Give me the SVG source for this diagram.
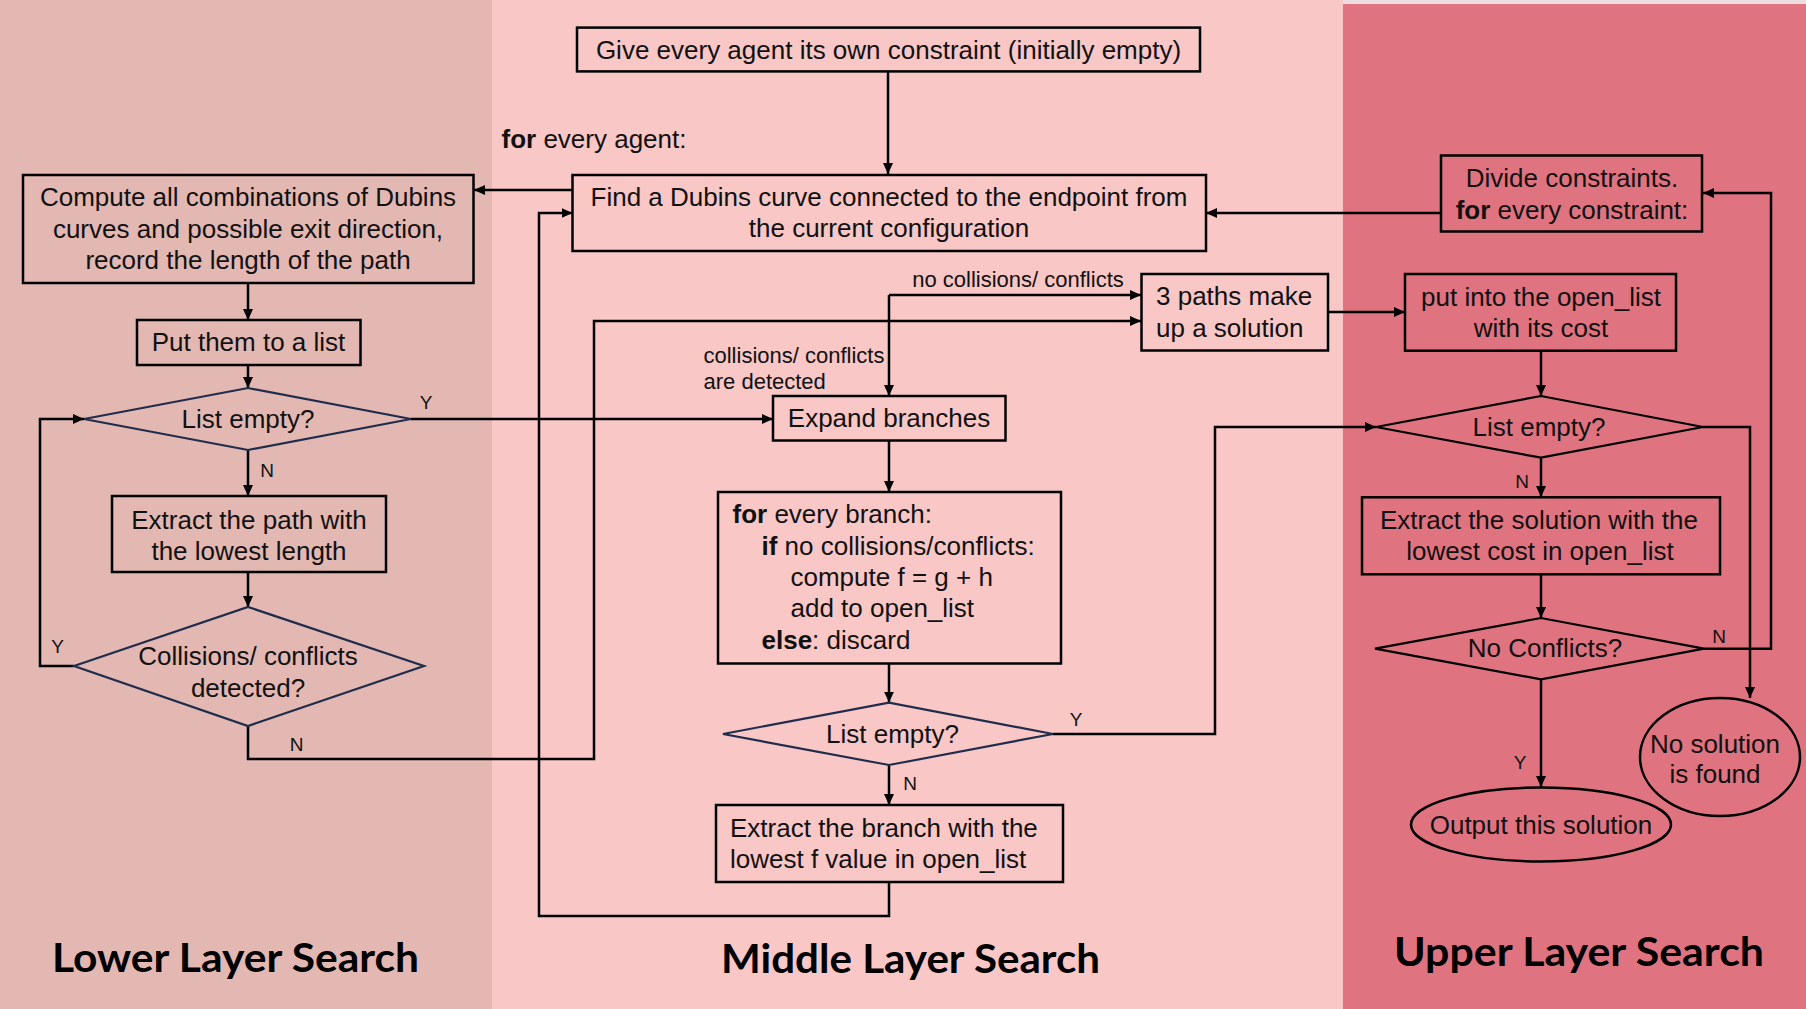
<svg xmlns="http://www.w3.org/2000/svg" width="1806" height="1009" viewBox="0 0 1806 1009">
<defs>
<marker id="ah" markerUnits="userSpaceOnUse" markerWidth="12" markerHeight="10" refX="11" refY="5" orient="auto">
<path d="M0,0 L11,5 L0,10 z" fill="#000"/>
</marker>
<style>
.t{font-family:"Liberation Sans",Arial,sans-serif;font-size:26px;fill:#111;}
.m{text-anchor:middle;}
.s{font-family:"Liberation Sans",Arial,sans-serif;font-size:22px;fill:#111;}
.l{font-family:"Liberation Sans",Arial,sans-serif;font-size:19px;fill:#111;text-anchor:middle;}
.b{font-weight:bold;}
.box{fill:none;stroke:#000;stroke-width:2.5;}
.dia{fill:none;stroke:#1f2d4d;stroke-width:2.2;}
.diab{fill:none;stroke:#000;stroke-width:2.2;}
.c{fill:none;stroke:#000;stroke-width:2.5;marker-end:url(#ah);}
.cn{fill:none;stroke:#000;stroke-width:2.5;}
.title{font-family:"Lato","Liberation Sans",sans-serif;font-size:40px;font-weight:bold;fill:#000;}
</style>
</defs>
<g id="background">
<rect x="0" y="0" width="492" height="1009" fill="#e3b7b2"/>
<rect x="492" y="0" width="851" height="1009" fill="#f8c7c6"/>
<rect x="1343" y="0" width="463" height="1009" fill="#df737f"/>
<rect x="1343" y="0" width="463" height="4" fill="#ecdede"/>
</g>
<g id="titles">
<text class="title" x="52" y="972" textLength="367" lengthAdjust="spacingAndGlyphs">Lower Layer Search</text>
<text class="title" x="721" y="973" textLength="379" lengthAdjust="spacingAndGlyphs">Middle Layer Search</text>
<text class="title" x="1394" y="966" textLength="370" lengthAdjust="spacingAndGlyphs">Upper Layer Search</text>
</g>
<g id="connectors">
<path class="c" d="M888,71.4 V174"/>
<path class="c" d="M572.5,190 H474"/>
<path class="c" d="M248,283 V320"/>
<path class="c" d="M248,365 V388"/>
<path class="c" d="M411,419 H773"/>
<path class="c" d="M248,450 V496"/>
<path class="c" d="M248,572 V607"/>
<path class="c" d="M74,666 H40 V419 H84"/>
<path class="c" d="M248,726 V759 H594 V321 H1141"/>
<path class="c" d="M889,295 H1141"/>
<path class="c" d="M889,295 V396"/>
<path class="c" d="M889,441 V492"/>
<path class="c" d="M889,664 V702.6"/>
<path class="c" d="M1053,734 H1215 V427 H1376"/>
<path class="c" d="M889,765 V805"/>
<path class="c" d="M889,882 V916 H539 V213 H572.5"/>
<path class="c" d="M1441,213 H1206"/>
<path class="c" d="M1328,312 H1405"/>
<path class="c" d="M1541,350.7 V396"/>
<path class="c" d="M1703,427 H1750 V698"/>
<path class="c" d="M1541,457.7 V497"/>
<path class="c" d="M1541,574 V618"/>
<path class="c" d="M1704,648.7 H1771 V193 H1703"/>
<path class="c" d="M1541,679 V787"/>
</g>
<g id="connector-labels">
<text class="l" x="426" y="409">Y</text>
<text class="l" x="267" y="477">N</text>
<text class="l" x="57.5" y="653">Y</text>
<text class="l" x="296.5" y="751">N</text>
<text class="l" x="1076" y="726">Y</text>
<text class="l" x="910" y="790">N</text>
<text class="l" x="1522" y="488">N</text>
<text class="l" x="1719" y="643">N</text>
<text class="l" x="1520" y="769">Y</text>
<text class="s" x="1018" y="286.5" text-anchor="middle">no collisions/ conflicts</text>
<text class="s" x="703.5" y="362.5">collisions/ conflicts</text>
<text class="s" x="703.5" y="389">are detected</text>
<text class="t" x="501.5" y="148"><tspan class="b">for</tspan> every agent:</text>
</g>
<g id="n-give">
<rect class="box" x="577" y="27.6" width="623" height="43.8"/>
<text class="t m" x="888.5" y="58.5">Give every agent its own constraint (initially empty)</text>
</g>
<g id="n-find">
<rect class="box" x="572.5" y="175" width="633.5" height="76"/>
<text class="t m" x="889" y="206">Find a Dubins curve connected to the endpoint from</text>
<text class="t m" x="889" y="237">the current configuration</text>
</g>
<g id="n-compute">
<rect class="box" x="23" y="175" width="450.5" height="108"/>
<text class="t m" x="248" y="206">Compute all combinations of Dubins</text>
<text class="t m" x="248" y="237.5">curves and possible exit direction,</text>
<text class="t m" x="248" y="269">record the length of the path</text>
</g>
<g id="n-put">
<rect class="box" x="137" y="320" width="223.5" height="45"/>
<text class="t m" x="248.5" y="351">Put them to a list</text>
</g>
<g id="n-empty-lower">
<polygon class="dia" points="84,419 248,388 411,419 248,450"/>
<text class="t m" x="248" y="428">List empty?</text>
</g>
<g id="n-extract-path">
<rect class="box" x="112" y="496" width="274" height="76"/>
<text class="t m" x="249" y="528.5">Extract the path with</text>
<text class="t m" x="249" y="559.5">the lowest length</text>
</g>
<g id="n-collisions">
<polygon class="dia" points="74,666 248,607 424,666 248,726"/>
<text class="t m" x="248" y="664.5">Collisions/ conflicts</text>
<text class="t m" x="248" y="696.5">detected?</text>
</g>
<g id="n-3paths">
<rect class="box" x="1141.5" y="274" width="186.5" height="76.5"/>
<text class="t" x="1156" y="305">3 paths make</text>
<text class="t" x="1156" y="337">up a solution</text>
</g>
<g id="n-expand">
<rect class="box" x="773" y="396" width="232.5" height="44.5"/>
<text class="t m" x="889" y="427">Expand branches</text>
</g>
<g id="n-branch">
<rect class="box" x="718" y="492" width="343" height="171.5"/>
<text class="t" x="732.5" y="523"><tspan class="b">for</tspan> every branch:</text>
<text class="t" x="761.5" y="554.5"><tspan class="b">if</tspan> no collisions/conflicts:</text>
<text class="t" x="790.5" y="586">compute f = g + h</text>
<text class="t" x="790.5" y="617">add to open_list</text>
<text class="t" x="761.5" y="648.5"><tspan class="b">else</tspan>: discard</text>
</g>
<g id="n-empty-middle">
<polygon class="dia" points="723,734 889,702.6 1053,734 889,765"/>
<text class="t m" x="892.5" y="743">List empty?</text>
</g>
<g id="n-extract-branch">
<rect class="box" x="716" y="805" width="347" height="77"/>
<text class="t" x="730" y="836.5">Extract the branch with the</text>
<text class="t" x="730" y="868">lowest f value in open_list</text>
</g>
<g id="n-divide">
<rect class="box" x="1441" y="155.5" width="261" height="76"/>
<text class="t m" x="1572" y="187">Divide constraints.</text>
<text class="t m" x="1572" y="219"><tspan class="b">for</tspan> every constraint:</text>
</g>
<g id="n-openlist">
<rect class="box" x="1405" y="274" width="271" height="76.7"/>
<text class="t m" x="1541" y="305.5">put into the open_list</text>
<text class="t m" x="1541" y="336.5">with its cost</text>
</g>
<g id="n-empty-upper">
<polygon class="diab" points="1376,427 1541,396 1703,427 1541,457.7"/>
<text class="t m" x="1539" y="435.5">List empty?</text>
</g>
<g id="n-extract-solution">
<rect class="box" x="1362" y="497.3" width="358" height="77"/>
<text class="t m" x="1539" y="528.5">Extract the solution with the</text>
<text class="t m" x="1540" y="560">lowest cost in open_list</text>
</g>
<g id="n-noconflicts">
<polygon class="diab" points="1375,648.7 1541,618 1704,648.7 1541,679.3"/>
<text class="t m" x="1545" y="657">No Conflicts?</text>
</g>
<g id="n-output">
<ellipse class="box" cx="1541" cy="824.5" rx="130" ry="37"/>
<text class="t m" x="1541" y="833.5">Output this solution</text>
</g>
<g id="n-nosolution">
<ellipse class="box" cx="1720" cy="757" rx="80" ry="59"/>
<text class="t m" x="1715" y="753">No solution</text>
<text class="t m" x="1715" y="783">is found</text>
</g>
</svg>
